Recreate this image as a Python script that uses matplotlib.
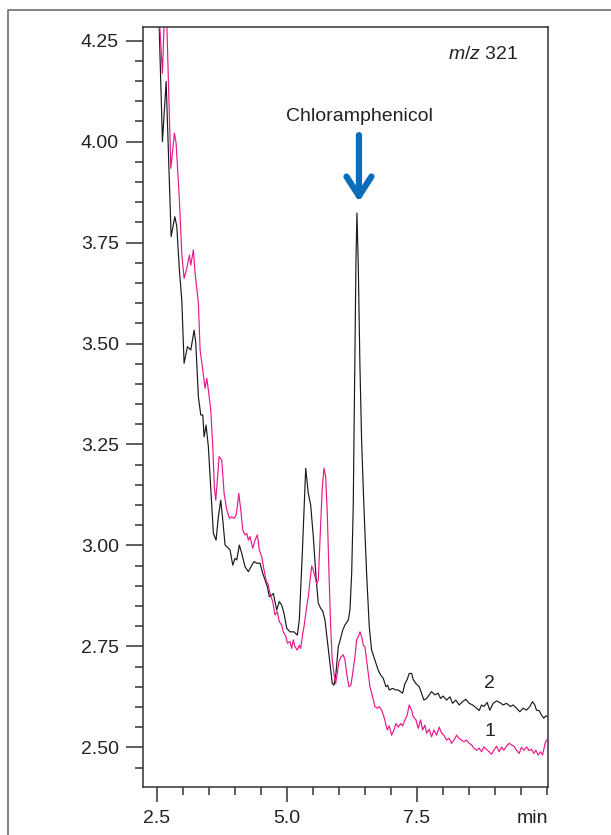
import matplotlib
matplotlib.use("Agg")
import matplotlib.pyplot as plt
from matplotlib.lines import Line2D
from matplotlib.ticker import MultipleLocator

# ---- data: retention time (min) vs signal, m/z 321 ----
# trace 2 (black, spiked sample)
t2 = [2.48, 2.531, 2.608, 2.679, 2.775, 2.846, 2.884, 2.934, 2.980, 3.024,
      3.088, 3.153, 3.217, 3.249, 3.299, 3.345, 3.384, 3.409, 3.447, 3.491,
      3.556, 3.587, 3.639, 3.683, 3.729, 3.768, 3.812, 3.875, 3.908, 3.960,
      4.004, 4.037, 4.087, 4.133, 4.196, 4.260, 4.325, 4.369, 4.421, 4.484,
      4.536, 4.624, 4.663, 4.709, 4.740, 4.805, 4.855, 4.901, 4.945, 4.997,
      5.060, 5.137, 5.201, 5.239, 5.297, 5.362, 5.412, 5.458, 5.508, 5.560,
      5.604, 5.650, 5.689, 5.733, 5.777, 5.829, 5.873, 5.906, 5.944, 5.988,
      6.034, 6.073, 6.117, 6.180, 6.213, 6.246, 6.276, 6.303, 6.328, 6.347,
      6.372, 6.404, 6.437, 6.481, 6.533, 6.584, 6.629, 6.693, 6.757, 6.803,
      6.853, 6.905, 6.937, 6.968, 7.033, 7.097, 7.141, 7.225, 7.270, 7.314,
      7.352, 7.398, 7.429, 7.481, 7.544, 7.590, 7.634, 7.686, 7.736, 7.782,
      7.846, 7.909, 7.955, 8.005, 8.070, 8.134, 8.186, 8.249, 8.313, 8.378,
      8.441, 8.505, 8.570, 8.647, 8.697, 8.743, 8.787, 8.850, 8.902, 8.966,
      9.031, 9.094, 9.158, 9.223, 9.300, 9.350, 9.415, 9.479, 9.542, 9.607,
      9.671, 9.722, 9.767, 9.799, 9.849, 9.895, 9.940, 9.978, 10.016]
s2 = [4.60, 4.35, 4.000, 4.149, 3.765, 3.814, 3.790, 3.682, 3.607, 3.451,
      3.492, 3.484, 3.533, 3.501, 3.368, 3.323, 3.323, 3.269, 3.298, 3.244,
      3.096, 3.030, 3.013, 3.071, 3.112, 3.063, 3.001, 2.993, 2.989, 2.951,
      2.968, 2.964, 3.001, 2.980, 2.947, 2.935, 2.951, 2.960, 2.956, 2.956,
      2.931, 2.898, 2.873, 2.877, 2.881, 2.840, 2.861, 2.852, 2.832, 2.795,
      2.786, 2.786, 2.778, 2.815, 2.980, 3.191, 3.129, 3.100, 3.022, 2.923,
      2.857, 2.844, 2.838, 2.815, 2.766, 2.708, 2.658, 2.654, 2.683, 2.749,
      2.770, 2.790, 2.803, 2.815, 2.840, 2.931, 3.096, 3.400, 3.700, 3.823,
      3.700, 3.450, 3.260, 3.096, 2.931, 2.799, 2.741, 2.716, 2.691, 2.679,
      2.671, 2.650, 2.654, 2.642, 2.646, 2.642, 2.642, 2.634, 2.658, 2.668,
      2.683, 2.683, 2.668, 2.658, 2.650, 2.634, 2.617, 2.621, 2.630, 2.638,
      2.630, 2.634, 2.621, 2.627, 2.617, 2.625, 2.609, 2.617, 2.605, 2.613,
      2.619, 2.609, 2.605, 2.597, 2.591, 2.605, 2.601, 2.611, 2.592, 2.609,
      2.615, 2.611, 2.605, 2.609, 2.601, 2.605, 2.597, 2.588, 2.597, 2.592,
      2.601, 2.613, 2.605, 2.592, 2.591, 2.580, 2.572, 2.578, 2.576]

# trace 1 (magenta, blank)
t1 = [2.50, 2.550, 2.608, 2.669, 2.769, 2.838, 2.871, 2.934, 2.980, 3.024,
      3.076, 3.126, 3.153, 3.203, 3.236, 3.299, 3.332, 3.384, 3.428, 3.460,
      3.491, 3.537, 3.576, 3.606, 3.633, 3.664, 3.697, 3.749, 3.793, 3.845,
      3.895, 3.941, 3.985, 4.023, 4.048, 4.075, 4.114, 4.152, 4.196, 4.229,
      4.260, 4.292, 4.344, 4.388, 4.432, 4.471, 4.517, 4.561, 4.600, 4.644,
      4.676, 4.728, 4.772, 4.817, 4.855, 4.901, 4.932, 4.984, 5.009, 5.061,
      5.093, 5.124, 5.157, 5.201, 5.239, 5.266, 5.305, 5.330, 5.381, 5.412,
      5.445, 5.478, 5.508, 5.541, 5.573, 5.604, 5.623, 5.650, 5.681, 5.714,
      5.746, 5.777, 5.810, 5.842, 5.873, 5.906, 5.938, 5.969, 6.002, 6.040,
      6.084, 6.117, 6.150, 6.194, 6.232, 6.265, 6.309, 6.342, 6.373, 6.405,
      6.438, 6.469, 6.501, 6.534, 6.565, 6.597, 6.649, 6.693, 6.738, 6.776,
      6.822, 6.866, 6.930, 6.968, 7.014, 7.058, 7.097, 7.141, 7.187, 7.225,
      7.270, 7.314, 7.352, 7.398, 7.429, 7.481, 7.525, 7.571, 7.610, 7.654,
      7.687, 7.736, 7.783, 7.827, 7.879, 7.929, 7.975, 8.019, 8.071, 8.121,
      8.167, 8.211, 8.263, 8.313, 8.359, 8.403, 8.455, 8.505, 8.551, 8.595,
      8.647, 8.697, 8.743, 8.787, 8.839, 8.889, 8.935, 8.979, 9.031, 9.081,
      9.127, 9.171, 9.223, 9.273, 9.319, 9.363, 9.415, 9.465, 9.511, 9.556,
      9.607, 9.657, 9.704, 9.748, 9.786, 9.831, 9.877, 9.915, 9.946, 9.973,
      10.017]
s1 = [4.60, 4.30, 4.169, 4.40, 3.934, 4.021, 3.996, 3.855, 3.723, 3.661,
      3.686, 3.719, 3.694, 3.732, 3.674, 3.600, 3.484, 3.434, 3.389, 3.414,
      3.385, 3.335, 3.244, 3.145, 3.112, 3.162, 3.220, 3.211, 3.129, 3.088,
      3.067, 3.071, 3.067, 3.075, 3.096, 3.129, 3.088, 3.038, 3.026, 3.030,
      3.013, 3.022, 2.993, 3.013, 3.026, 2.989, 2.972, 2.939, 2.914, 2.902,
      2.881, 2.861, 2.828, 2.836, 2.811, 2.803, 2.786, 2.774, 2.758, 2.762,
      2.745, 2.766, 2.749, 2.741, 2.753, 2.745, 2.782, 2.799, 2.848, 2.873,
      2.914, 2.949, 2.939, 2.923, 2.906, 2.914, 2.972, 3.055, 3.145, 3.191,
      3.170, 3.080, 2.931, 2.799, 2.716, 2.683, 2.658, 2.683, 2.712, 2.724,
      2.729, 2.716, 2.683, 2.650, 2.654, 2.683, 2.724, 2.766, 2.774, 2.786,
      2.774, 2.753, 2.749, 2.716, 2.683, 2.650, 2.625, 2.601, 2.597, 2.601,
      2.592, 2.576, 2.543, 2.553, 2.530, 2.543, 2.559, 2.550, 2.559, 2.553,
      2.568, 2.580, 2.605, 2.592, 2.576, 2.568, 2.547, 2.568, 2.543, 2.555,
      2.535, 2.545, 2.526, 2.543, 2.530, 2.550, 2.535, 2.530, 2.518, 2.522,
      2.510, 2.518, 2.530, 2.522, 2.518, 2.514, 2.518, 2.510, 2.506, 2.498,
      2.493, 2.498, 2.489, 2.501, 2.495, 2.489, 2.483, 2.493, 2.503, 2.489,
      2.501, 2.493, 2.503, 2.510, 2.506, 2.503, 2.493, 2.485, 2.500, 2.493,
      2.501, 2.492, 2.495, 2.485, 2.493, 2.481, 2.489, 2.481, 2.498, 2.514,
      2.520]

peak_rt, peak_top = 6.386, 3.851
x_major = [2.5, 5.0, 7.5]
y_major = [2.50, 2.75, 3.00, 3.25, 3.50, 3.75, 4.00, 4.25]

# ---- style ----
INK = "#222222"
MAGENTA = "#e8178c"
BLUE = "#0b6db7"
plt.rcParams.update({
    "font.family": "Liberation Sans",
    "font.size": 14,
    "mathtext.fontset": "custom",
    "mathtext.rm": "Liberation Sans",
    "mathtext.it": "Liberation Sans:italic",
    "axes.edgecolor": "#333333",
    "axes.linewidth": 1.1,
    "text.color": INK,
    "xtick.color": "#333333", "ytick.color": "#333333",
    "xtick.labelcolor": INK, "ytick.labelcolor": INK,
})

fig = plt.figure(figsize=(6.11, 8.35), dpi=100)
ax = fig.add_axes([0.2336, 0.0571, 0.6641, 0.9102])

ax.plot(t2, s2, color="#1a1a1a", lw=0.85)
ax.plot(t1, s1, color=MAGENTA, lw=0.85)

ax.set_xlim(2.229, 10.03)
ax.set_ylim(2.401, 4.283)
ax.set_xticks(x_major)
ax.set_xticklabels(["2.5", "5.0", "7.5"])
ax.xaxis.set_minor_locator(MultipleLocator(0.5))
ax.set_yticks(y_major)
ax.set_yticklabels([f"{v:.2f}" for v in y_major])
ax.yaxis.set_minor_locator(MultipleLocator(0.05))
ax.tick_params(axis="y", which="major", length=12, width=1.1, pad=5, labelsize=14)
ax.tick_params(axis="y", which="minor", length=6, width=1.1)
ax.tick_params(axis="x", which="major", length=10.5, width=1.1, pad=6, labelsize=14)
ax.tick_params(axis="x", which="minor", length=5.5, width=1.1)

ax.text(1.0, -0.0474, "min", transform=ax.transAxes, ha="right", va="baseline", fontsize=14)
ax.text(0.925, 0.9636, r"$\mathit{m/z}$ 321", transform=ax.transAxes,
        ha="right", va="center", fontsize=14)
ax.text(peak_rt, 4.061, "Chloramphenicol", ha="center", va="center", fontsize=14)
ax.annotate("", xy=(peak_rt, peak_top), xytext=(peak_rt, 4.016),
            arrowprops=dict(arrowstyle="->,head_length=0.7,head_width=0.45",
                            color=BLUE, lw=4.5, shrinkA=0, shrinkB=0,
                            mutation_scale=20, capstyle="round"))
ax.text(8.90, 2.658, "2", ha="center", va="center", fontsize=14)
ax.text(8.90, 2.539, "1", ha="center", va="center", fontsize=14)

# outer panel frame (open to the right and bottom)
fig.add_artist(Line2D([8 / 611, 8 / 611, 1.01], [-0.01, 1 - 10 / 835, 1 - 10 / 835],
                      transform=fig.transFigure, color="#7a7a7a", lw=1.3))

fig.savefig("out.png", dpi=100)
